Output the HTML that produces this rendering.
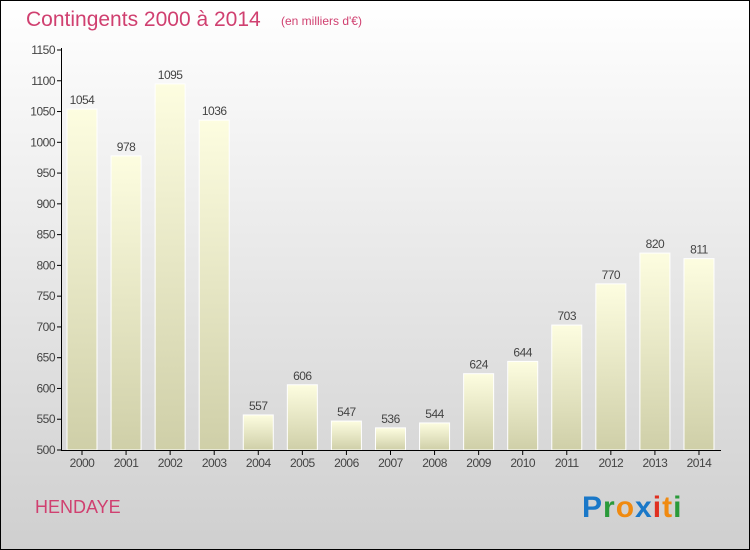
<!DOCTYPE html>
<html><head><meta charset="utf-8"><style>
body{margin:0;width:750px;height:550px;overflow:hidden}
#c{position:absolute;left:0;top:0;width:748px;height:548px;border:1px solid #000;background:linear-gradient(#ffffff,#cfcfcf);font-family:"Liberation Sans",sans-serif}
</style></head><body>
<div id="c">
<svg width="750" height="550" id="svg" style="position:absolute;left:-1px;top:-1px">
<defs><linearGradient id="g" x1="0" y1="0" x2="0" y2="1"><stop offset="0" stop-color="#fdfde0"/><stop offset="1" stop-color="#cfcfa8"/></linearGradient></defs>
<text x="26" y="26" font-size="21" fill="#d04070">Contingents 2000 à 2014</text>
<text x="281" y="25" font-size="12" fill="#d04070">(en milliers d'€)</text>
<text x="35" y="513" font-size="18" fill="#d04070">HENDAYE</text>
<g font-size="30" font-weight="bold" font-family="'Liberation Sans',sans-serif" letter-spacing="1">
<text x="582" y="517"><tspan fill="#1a78c8">P</tspan><tspan fill="#2a9a3a">r</tspan><tspan fill="#f08a10">o</tspan><tspan fill="#1a78c8">x</tspan><tspan fill="#e03020">i</tspan><tspan fill="#f08a10">t</tspan><tspan fill="#2a9a3a">i</tspan></text>
</g>
<g id="plot"></g>
</svg>
</div>
<script>
const years=["2000","2001","2002","2003","2004","2005","2006","2007","2008","2009","2010","2011","2012","2013","2014"];
const values=[1054,978,1095,1036,557,606,547,536,544,624,644,703,770,820,811];
const yTicks=[500,550,600,650,700,750,800,850,900,950,1000,1050,1100,1150];
const NS="http://www.w3.org/2000/svg";
const g=document.getElementById('plot');
const y=v=>450-(v-500)*400/650;
const x=i=>67+i*44.07;
function el(t,a){const e=document.createElementNS(NS,t);for(const k in a)e.setAttribute(k,a[k]);g.appendChild(e);return e;}
yTicks.forEach(t=>{
 const l=el('line',{x1:57,x2:62,y1:y(t),y2:y(t),stroke:'#000'});
 
 
 const tx=el('text',{x:55,y:y(t)+4,'text-anchor':'end','font-size':12,fill:'#444','letter-spacing':'-0.5'});
 tx.textContent=t;
 
 
});
values.forEach((v,i)=>{
 const r=el('rect',{x:x(i),y:y(v),width:30,height:450-y(v),fill:'url(#g)',stroke:'#fff','stroke-width':1});
 
 
 const vt=el('text',{x:x(i)+15,y:y(v)-5,'text-anchor':'middle','font-size':12,fill:'#444','letter-spacing':'-0.5'});
 vt.textContent=v;
 
 
 const tk=el('line',{x1:x(i)+15,x2:x(i)+15,y1:450,y2:455,stroke:'#000'});
 
 
 const xt=el('text',{x:x(i)+15,y:467,'text-anchor':'middle','font-size':12,fill:'#444','letter-spacing':'-0.5'});
 xt.textContent=years[i];
 
 
});
const ya=el('line',{x1:61.5,x2:61.5,y1:48,y2:450,stroke:'#000'});


const xa=el('line',{x1:61,x2:721,y1:450.5,y2:450.5,stroke:'#000'});


</script>
</body></html>
